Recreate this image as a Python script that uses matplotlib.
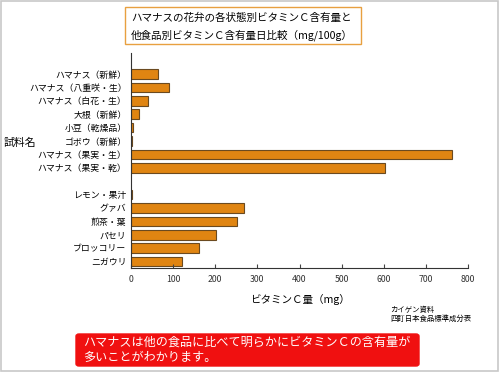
import matplotlib
matplotlib.use("Agg")
import matplotlib.pyplot as plt
from matplotlib.patches import Rectangle, FancyBboxPatch

plt.rcParams['font.family'] = ['Noto Sans CJK JP', 'DejaVu Sans']

categories = ["ハマナス（新鮮）", "ハマナス（八重咲・生）", "ハマナス（白花・生）", "大根（新鮮）",
              "小豆（乾燥品）", "ゴボウ（新鮮）", "ハマナス（果実・生）", "ハマナス（果実・乾）",
              "", "レモン・果汁", "グァバ", "煎茶・葉", "パセリ", "ブロッコリー", "ニガウリ"]
values = [64, 90, 40, 19, 5, 2, 762, 603, None, 4, 269, 251, 201, 161, 121]
xticks = [0, 100, 200, 300, 400, 500, 600, 700, 800]

fig = plt.figure(figsize=(5.0, 3.72), dpi=100)
ax = fig.add_axes([0.2614, 0.2796, 0.9366 - 0.2614, 0.8575 - 0.2796])

ys = [i for i, v in enumerate(values) if v is not None]
vs = [v for v in values if v is not None]
ax.barh(ys, vs, height=0.72, color="#E08512", edgecolor="#6b4a20", linewidth=0.8)

ax.set_xlim(0, 800)
ax.set_ylim(14.48, -1.57)
ax.set_yticks(range(len(categories)))
ax.set_yticklabels(categories, fontsize=6.4)
ax.tick_params(axis='y', length=0, pad=3)
ax.set_xticks(xticks)
ax.set_xticklabels([str(t) for t in xticks], fontsize=6.3, color="#333333")
ax.tick_params(axis='x', direction='in', length=3, pad=5, color="#444444")
for s in ['top', 'right']:
    ax.spines[s].set_visible(False)
ax.spines['left'].set_color("#333333")
ax.spines['bottom'].set_color("#333333")
ax.set_xlabel("ビタミンＣ量（mg）", fontsize=7.6, labelpad=7)

# "試料名" label
fig.text(4 / 500, 1 - 143 / 372, "試料名", fontsize=7.8, va='center', ha='left')

# title box
fig.patches.append(Rectangle((125 / 500, 1 - 44 / 372), (361 - 125) / 500, (44 - 7) / 372,
                             transform=fig.transFigure, facecolor='white', edgecolor='#E8A040',
                             linewidth=1.0))
fig.text(131 / 500, 1 - 18 / 372, "ハマナスの花弁の各状態別ビタミンＣ含有量と", fontsize=7.6,
         va='center', ha='left')
fig.text(131 / 500, 1 - 35 / 372, "他食品別ビタミンＣ含有量日比較（mg/100g）", fontsize=7.6,
         va='center', ha='left')

# source
fig.text(390 / 500, 1 - 310 / 372, "カイゲン資料", fontsize=5.3, va='center', ha='left')
fig.text(390 / 500, 1 - 319 / 372, "四訂日本食品標準成分表", fontsize=5.3, va='center', ha='left')

# red note box
fig.patches.append(FancyBboxPatch((76 / 500, 1 - 366 / 372), (419 - 76) / 500, (366 - 334) / 372,
                                  boxstyle="round,pad=0,rounding_size=0.006",
                                  transform=fig.transFigure, facecolor='#F01010',
                                  edgecolor='#F01010', linewidth=1))
fig.text(83 / 500, 1 - 342 / 372, "ハマナスは他の食品に比べて明らかにビタミンＣの含有量が",
         fontsize=8.7, color='white', va='center', ha='left')
fig.text(83 / 500, 1 - 358 / 372, "多いことがわかります。",
         fontsize=8.7, color='white', va='center', ha='left')

# outer frame
fig.patches.append(Rectangle((0.001, 0.002), 0.995, 0.995, transform=fig.transFigure,
                             facecolor='none', edgecolor='#c8c8c8', linewidth=1.2))

fig.savefig("out.png", dpi=100)
